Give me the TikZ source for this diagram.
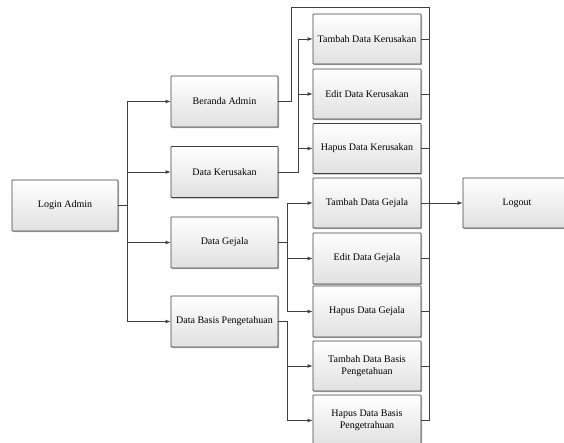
\documentclass[tikz,border=0pt]{standalone}
\usepackage{fontspec}
\setmainfont{Liberation Serif}
\usetikzlibrary{arrows.meta}
\begin{document}
\begin{tikzpicture}[x=1pt,y=1pt,
  menubox/.style={draw=black!75, line width=0.7pt, rounded corners=0.6pt,
    top color=white, bottom color=black!12,
    minimum height=51pt, inner sep=1pt, align=center,
    font=\fontsize{10}{12.5}\selectfont,
    preaction={fill=black!30, transform canvas={xshift=1.2pt,yshift=-1.2pt}}},
  link/.style={draw=black!75, line width=0.8pt},
  arr/.style={link, -{Latex[length=5pt,width=3.8pt]}}]
\useasboundingbox (0,0) rectangle (564,-443);
\clip (0,0) rectangle (564,-443);

% menu tree
\node[menubox, minimum width=106pt] (login) at (65,-205.5) {Login Admin};

\node[menubox, minimum width=107pt] (beranda) at (224.5,-101.5) {Beranda Admin};
\node[menubox, minimum width=107pt] (dk) at (224.5,-172) {Data Kerusakan};
\node[menubox, minimum width=107pt] (dg) at (224.5,-242.5) {Data Gejala};
\node[menubox, minimum width=107pt] (dbp) at (224.5,-321.5) {Data Basis Pengetahuan};

\node[menubox, minimum width=108pt, minimum height=50pt] (tdk) at (367,-39) {Tambah Data Kerusakan};
\node[menubox, minimum width=108pt, minimum height=50pt] (edk) at (367,-94) {Edit Data Kerusakan};
\node[menubox, minimum width=108pt, minimum height=50pt] (hdk) at (367,-148.5) {Hapus Data Kerusakan};
\node[menubox, minimum width=108pt, minimum height=50pt] (tdg) at (367,-203) {Tambah Data Gejala};
\node[menubox, minimum width=108pt] (edg) at (367,-258.5) {Edit Data Gejala};
\node[menubox, minimum width=108pt] (hdg) at (367,-311.5) {Hapus Data Gejala};
\node[menubox, minimum width=108pt, minimum height=50pt] (tdbp) at (367,-366) {Tambah Data Basis\\Pengetahuan};
\node[menubox, minimum width=108pt] (hdbp) at (367,-420.5) {Hapus Data Basis\\Pengetrahuan};

\node[menubox, minimum width=108pt, minimum height=50pt] (logout) at (517,-203) {Logout};

% bus lines
\coordinate (busL) at (127,0);
\coordinate (busK) at (298,0);
\coordinate (busG) at (287,0);
\coordinate (busR) at (429,0);
\coordinate (topB) at (291,-7);
\coordinate (topR) at (429,-7);

% login to first-level menus
\draw[link] (login.east) -- (login.east -| busL);
\draw[link] (busL |- beranda) -- (busL |- dbp);
\foreach \n in {beranda,dk,dg,dbp}
  \draw[arr] (busL |- \n) -- (\n.west);

% beranda goes straight to the right bus
\draw[link] (beranda.east) -- (topB |- beranda) -- (topB) -- (topR) -- (busR |- hdbp);

% data kerusakan
\draw[link] (dk.east) -- (busK |- dk) -- (busK |- tdk);
\foreach \n in {tdk,edk,hdk}
  \draw[arr] (busK |- \n) -- (\n.west);

% data gejala
\draw[link] (dg.east) -- (busG |- dg);
\draw[link] (busG |- tdg) -- (busG |- hdg);
\foreach \n in {tdg,edg,hdg}
  \draw[arr] (busG |- \n) -- (\n.west);

% data basis pengetahuan
\draw[link] (dbp.east) -- (busG |- dbp) -- (busG |- hdbp);
\foreach \n in {tdbp,hdbp}
  \draw[arr] (busG |- \n) -- (\n.west);

% every sub-menu returns to the right bus
\foreach \n in {tdk,edk,hdk,tdg,edg,hdg,tdbp,hdbp}
  \draw[link] (\n.east) -- (busR |- \n);

% logout
\draw[arr] (busR |- logout) -- (logout.west);
\end{tikzpicture}
\end{document}
